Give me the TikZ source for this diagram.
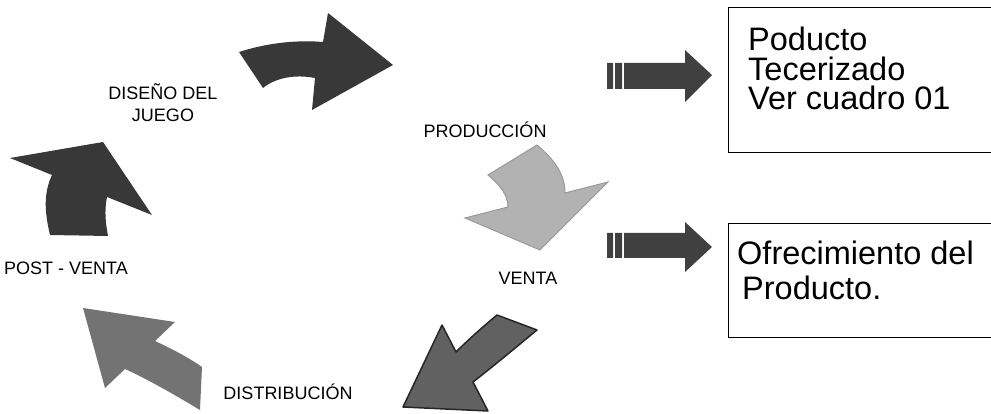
\documentclass[tikz,border=0pt]{standalone}
\usepackage{fontspec}
\setmainfont{Liberation Sans}
\usetikzlibrary{positioning,calc}

\begin{document}
\begin{tikzpicture}[x=1pt,y=-1pt,
	etiqueta/.style={font=\fontsize{18}{22}\selectfont,align=center,inner sep=0pt},
	caja/.style={draw,line width=1.3pt,minimum width=300pt,anchor=north west,inner sep=0pt},
	texto/.style={font=\fontsize{32.5}{29.5}\selectfont,align=left,anchor=north west,inner sep=0pt}]
\useasboundingbox (0,0) rectangle (991,414);
\clip (0,0) rectangle (991,414);
\fill [black!78] (239,52) .. controls (270,42) and (300,40) .. (323,42) -- (328,13) -- (393,65) -- (312,110) -- (315,78) .. controls (295,74) and (275,78) .. (263,88) -- cycle;
\fill [black!78] (50,235) .. controls (44,210) and (44,192) .. (52,175) -- (10,158) -- (103,142) -- (152,215) -- (107,197) .. controls (104,212) and (106,225) .. (108,236) -- cycle;
\filldraw [fill=black!30,draw=black!40,line width=1pt] (488,175) -- (537,145) .. controls (555,160) and (565,175) .. (565,193) -- (608,182) -- (540,250) -- (465,218) -- (508,207) .. controls (508,195) and (500,185) .. (488,175) -- cycle;
\filldraw [fill=black!62,draw=black!85,line width=1.5pt,line join=round] (497,315) -- (537,330) .. controls (515,348) and (495,365) .. (473,382) -- (488,411) -- (403,407) -- (442,325) -- (456,352) .. controls (470,338) and (485,325) .. (497,315) -- cycle;
\fill [black!55] (83,308) -- (175,322) -- (155,341) .. controls (170,348) and (188,357) .. (202,367) -- (200,410) .. controls (170,392) and (145,378) .. (125,369) -- (105,388) -- cycle;
\fill [black!75] (607,63) rectangle (613,89) (615,63) rectangle (622,89);
\fill [black!75] (624,63) -- (685,63) -- (685,50) -- (712,75) -- (685,102) -- (685,89) -- (624,89) -- cycle;
\fill [black!75] (607,233) rectangle (613,258) (615,233) rectangle (622,258);
\fill [black!75] (624,233) -- (685,233) -- (685,222) -- (712,247) -- (685,272) -- (685,258) -- (624,258) -- cycle;
\node [etiqueta] (diseno) at (163,103) {DISEÑO DEL\\JUEGO};
\node [etiqueta,anchor=base] (produccion) at (485,138) {PRODUCCIÓN};
\node [etiqueta,anchor=base] (venta) at (528,284) {VENTA};
\node [etiqueta,anchor=base] (postventa) at (66,274) {POST - VENTA};
\node [etiqueta,anchor=base] (distribucion) at (288,399) {DISTRIBUCIÓN};
\node [caja,minimum height=145pt] (tercero) at (728,7) {};
\node [caja,minimum height=114pt] (oferta) at (728,223) {};
\node [texto] (tercerotxt) at (748,27) {Poducto\\Tecerizado\\Ver cuadro 01};
\node [texto,font=\fontsize{32.5}{35}\selectfont] (ofertatxt) at (737,241) {Ofrecimiento del\\\hspace{5pt}Producto.};
\end{tikzpicture}
\end{document}
